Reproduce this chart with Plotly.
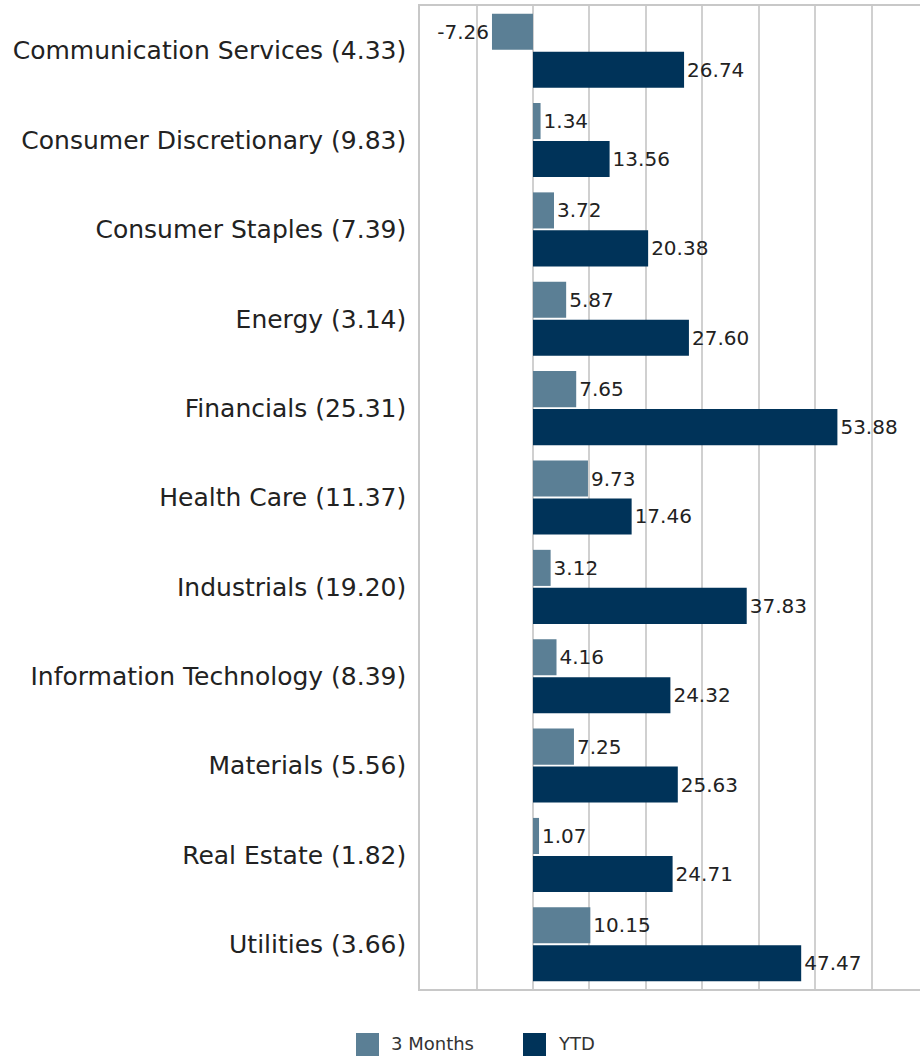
import plotly.graph_objects as go

categories = [
    "Communication Services (4.33)",
    "Consumer Discretionary (9.83)",
    "Consumer Staples (7.39)",
    "Energy (3.14)",
    "Financials (25.31)",
    "Health Care (11.37)",
    "Industrials (19.20)",
    "Information Technology (8.39)",
    "Materials (5.56)",
    "Real Estate (1.82)",
    "Utilities (3.66)",
]
three_months = [-7.26, 1.34, 3.72, 5.87, 7.65, 9.73, 3.12, 4.16, 7.25, 1.07, 10.15]
ytd = [26.74, 13.56, 20.38, 27.60, 53.88, 17.46, 37.83, 24.32, 25.63, 24.71, 47.47]
series_names = ["3 Months", "YTD"]
series_colors = ["#5B7F95", "#003359"]

FONT = "'DejaVu Sans', sans-serif"
W, H = 920, 1056
L, R, T, B = 420, 0, 6, 67
PW, PH = W - L - R, H - T - B

fig = go.Figure()
for name, vals, col in zip(series_names, [three_months, ytd], series_colors):
    fig.add_trace(go.Bar(
        y=categories, x=vals, orientation="h", name=name,
        marker=dict(color=col, line=dict(width=0)),
        text=[f"{v:.2f}" for v in vals], textposition="outside",
        textfont=dict(size=20, color="#222222", family=FONT), cliponaxis=False,
        showlegend=False,
    ))

# custom legend (boxes + labels) below the plot
legend_box_x = [356, 523]
legend_text_x = [389, 556]
for name, col, bx, tx in zip(series_names, series_colors, legend_box_x, legend_text_x):
    fig.add_shape(type="rect", xref="paper", yref="paper",
                  x0=(bx - L) / PW, x1=(bx + 23 - L) / PW,
                  y0=(H - B - 1056) / PH, y1=(H - B - 1033) / PH,
                  fillcolor=col, line=dict(width=0))
    fig.add_annotation(xref="paper", yref="paper", x=(tx - L) / PW,
                       y=(H - B - 1043) / PH, xanchor="left", yanchor="middle",
                       text=name, showarrow=False,
                       font=dict(size=18, color="#333333", family=FONT))

fig.update_layout(
    width=W, height=H,
    margin=dict(l=L, r=R, t=T, b=B, autoexpand=False),
    paper_bgcolor="white", plot_bgcolor="white",
    barmode="group", bargap=0.15, bargroupgap=0.05,
    font=dict(family=FONT, color="#222222"),
    showlegend=False,
)
fig.update_xaxes(
    range=[-20, 68.5], dtick=10, tick0=0, showticklabels=False,
    showgrid=True, gridcolor="#D0D0D0", gridwidth=1.5,
    zeroline=False, showline=True, linecolor="#C8C8C8", linewidth=1.5, mirror=True,
)
fig.update_yaxes(
    autorange="reversed", tickfont=dict(size=25, color="#222222", family=FONT),
    ticks="", ticklabelstandoff=7, automargin=False,
    showline=True, linecolor="#C8C8C8", linewidth=1.5, mirror=True, showgrid=False,
)

fig.write_html("out.html", config={"displayModeBar": False},
               post_script="document.body.style.margin='0px';")
